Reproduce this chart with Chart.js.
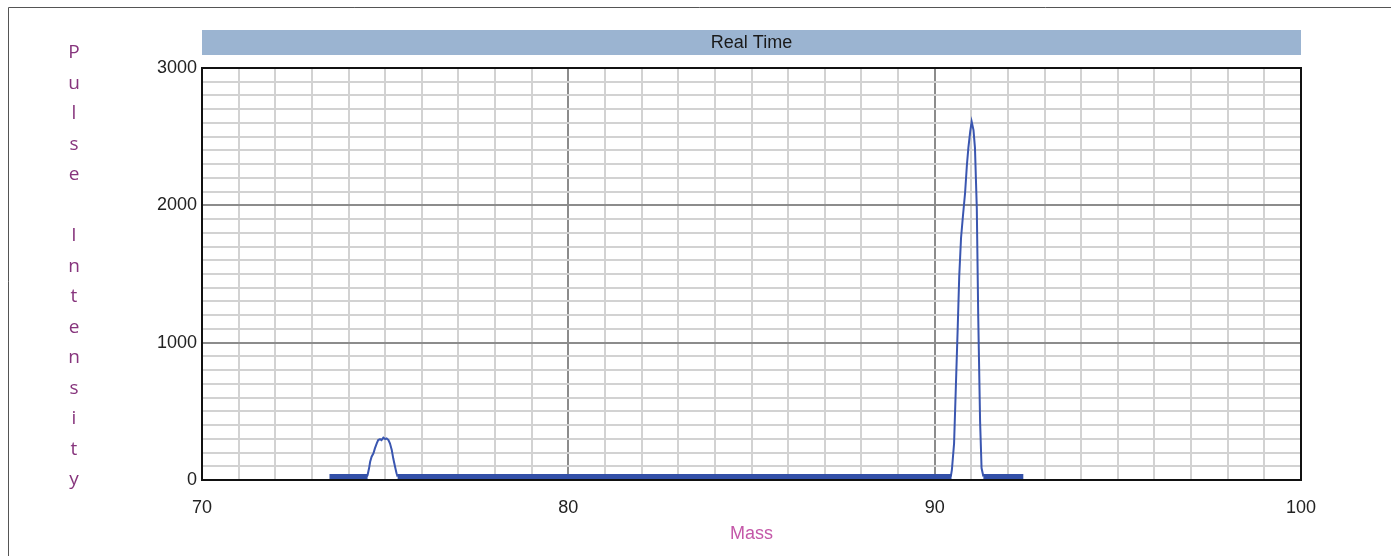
<!DOCTYPE html>
<html>
<head>
<meta charset="utf-8">
<script src="https://cdn.jsdelivr.net/npm/chart.js@4.4.1/dist/chart.umd.min.js"></script>
<style>
  html, body { margin: 0; padding: 0; background: #fff; }
  #wrap { position: relative; width: 1391px; height: 556px; }
</style>
</head>
<body>
<div id="wrap"><canvas id="chart" width="1391" height="556"></canvas></div>
<script>
// Chart texts
const chartTitle = "Real Time"
const xTitle = "Mass"
const yTitle = "Pulse Intensity"
const xTickLabels = [70, 80, 90, 100]
const yTickLabels = [0, 1000, 2000, 3000]

// Spectrum trace, null = gap between the two peaks
const traceMass = [
  74.50, 74.52, 74.56, 74.59, 74.63, 74.68, 74.72, 74.77, 74.81, 74.86, 74.90,
  74.95, 75.00, 75.04, 75.09, 75.13, 75.18, 75.22, 75.27, 75.31, 75.34,
  82.0,
  90.44, 90.47, 90.53, 90.58, 90.63, 90.67, 90.72, 90.77, 90.83, 90.88,
  90.92, 90.97, 91.01, 91.06, 91.10, 91.15, 91.19, 91.24, 91.28, 91.33
]
const traceIntensity = [
  25, 36, 85, 133, 170, 194, 230, 267, 291, 298, 291,
  308, 298, 303, 291, 267, 218, 158, 97, 49, 25,
  null,
  25, 73, 267, 692, 1116, 1480, 1762, 1917, 2090, 2294,
  2418, 2536, 2609, 2548, 2418, 1981, 1180, 425, 87, 25
]

// Noise floor, drawn as thick segments
const baselineStart = [73.48, 75.34, 91.33]
const baselineEnd = [74.52, 90.46, 92.42]
const baselineLevel = 25

const trace = traceMass.map((m, i) => ({ x: m, y: traceIntensity[i] }))
const baseline = []
baselineStart.forEach((s, i) => {
  baseline.push({ x: s, y: baselineLevel })
  baseline.push({ x: baselineEnd[i], y: baselineLevel })
  if (i < baselineStart.length - 1) baseline.push({ x: (baselineEnd[i] + baselineStart[i + 1]) / 2, y: null })
})

const tickFont = { family: "'Liberation Sans', Arial, sans-serif", size: 18 }

// Outer frame, title band, plot frame and stacked y title
const decorations = {
  id: "decorations",
  beforeDraw(chart) {
    const { ctx, chartArea } = chart
    ctx.save()
    ctx.strokeStyle = "#555"
    ctx.lineWidth = 1
    ctx.beginPath()
    ctx.moveTo(8.5, 556)
    ctx.lineTo(8.5, 7.5)
    ctx.lineTo(1391, 7.5)
    ctx.stroke()

    ctx.fillStyle = "#9bb4d1"
    ctx.fillRect(chartArea.left, 30, chartArea.right - chartArea.left, 25)
    ctx.fillStyle = "#1a1a1a"
    ctx.font = "18px 'Liberation Sans', Arial, sans-serif"
    ctx.textAlign = "center"
    ctx.textBaseline = "middle"
    ctx.fillText(chartTitle, (chartArea.left + chartArea.right) / 2, 43)

    ctx.fillStyle = "#87357d"
    ctx.font = "19px 'Open Sans', sans-serif"
    yTitle.split("").forEach((ch, i) => {
      if (ch !== " ") ctx.fillText(ch, 74, 53 + i * 30.5)
    })
    ctx.restore()
  },
  beforeDatasetsDraw(chart) {
    const { ctx, chartArea } = chart
    ctx.save()
    ctx.strokeStyle = "#111"
    ctx.lineWidth = 2
    ctx.strokeRect(chartArea.left, chartArea.top, chartArea.right - chartArea.left, chartArea.bottom - chartArea.top)
    ctx.restore()
  }
}

new Chart(document.getElementById("chart"), {
  type: "line",
  data: {
    datasets: [
      {
        data: baseline,
        borderColor: "#3350a8",
        borderWidth: 5,
        pointRadius: 0,
        spanGaps: false,
        borderCapStyle: "butt"
      },
      {
        data: trace,
        borderColor: "#3a56b0",
        borderWidth: 2,
        pointRadius: 0,
        spanGaps: false,
        tension: 0
      }
    ]
  },
  options: {
    responsive: false,
    animation: false,
    layout: { padding: { top: 68, right: 90, left: 0, bottom: 0 } },
    plugins: { legend: { display: false }, tooltip: { enabled: false } },
    scales: {
      x: {
        type: "linear",
        min: 70,
        max: 100,
        afterFit: (scale) => { scale.height = 76 },
        border: { display: false },
        grid: {
          drawTicks: false,
          lineWidth: 2,
          color: (c) => (xTickLabels.includes(c.tick.value) ? "#8c8c8c" : "#d2d2d2")
        },
        ticks: {
          stepSize: 1,
          autoSkip: false,
          maxRotation: 0,
          maxTicksLimit: 100,
          padding: 17,
          color: "#222",
          font: tickFont,
          callback: (v) => (xTickLabels.includes(v) ? String(v) : "")
        },
        title: {
          display: true,
          text: xTitle,
          color: "#c457a8",
          font: { family: "'Liberation Sans', Arial, sans-serif", size: 18 },
          padding: { top: 0, bottom: 11 }
        }
      },
      y: {
        min: 0,
        max: 3000,
        afterFit: (scale) => { scale.width = 202 },
        border: { display: false },
        grid: {
          drawTicks: false,
          lineWidth: 2,
          color: (c) => (yTickLabels.includes(c.tick.value) ? "#8c8c8c" : "#d2d2d2")
        },
        ticks: {
          stepSize: 100,
          autoSkip: false,
          maxTicksLimit: 100,
          padding: 5,
          color: "#222",
          font: tickFont,
          callback: (v) => (yTickLabels.includes(v) ? String(v) : "")
        }
      }
    }
  },
  plugins: [decorations]
})
</script>
</body>
</html>
